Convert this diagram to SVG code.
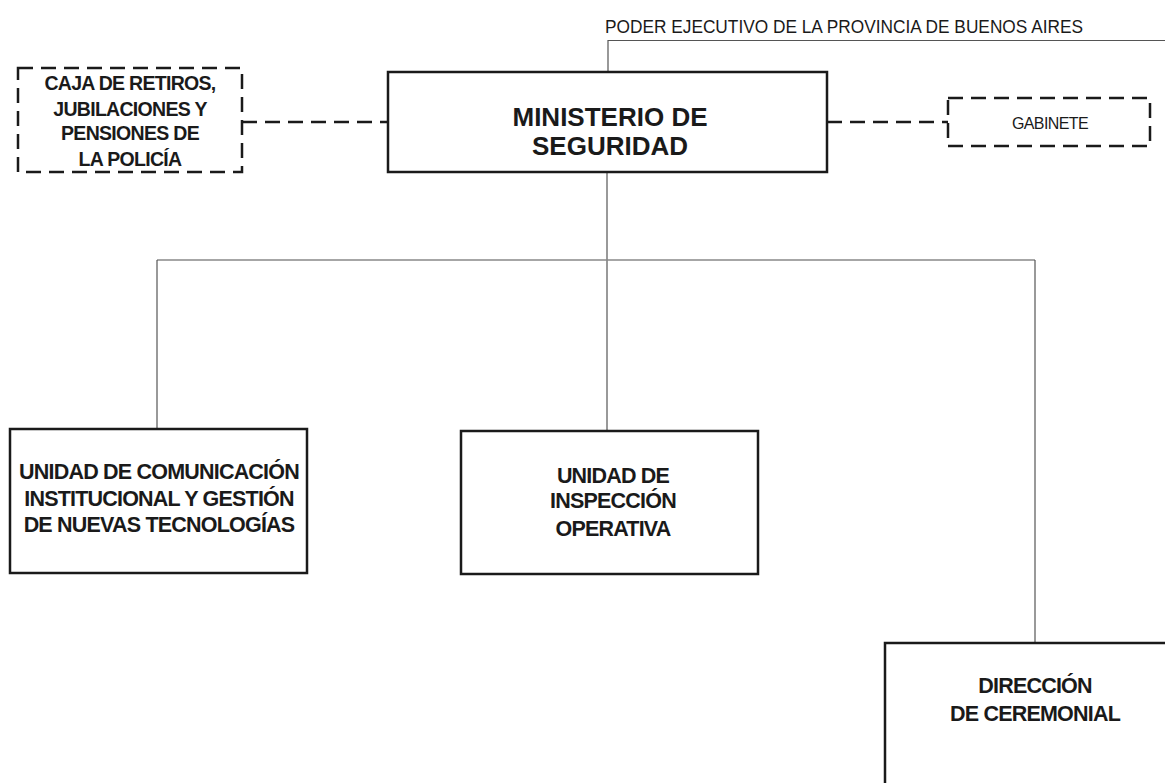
<svg xmlns="http://www.w3.org/2000/svg" width="1165" height="783" viewBox="0 0 1165 783">
<style>
.box{fill:#fff;stroke:#1a1a1a;stroke-width:2.5}
.dbox{fill:#fff;stroke:#1a1a1a;stroke-width:2.5;stroke-dasharray:15 8}
.dash{fill:none;stroke:#1a1a1a;stroke-width:2.5;stroke-dasharray:15 8}
.thin{fill:none;stroke:#555;stroke-width:1.2}
.bus{fill:none;stroke:#888;stroke-width:1.5}
.t{font-family:"Liberation Sans",Arial,sans-serif;font-weight:bold;fill:#1a1a1a;text-anchor:middle}
.r{font-family:"Liberation Sans",Arial,sans-serif;fill:#1a1a1a}
</style>
<rect width="1165" height="783" fill="#fff"/>
<g id="connectors">
<polyline class="thin" points="608,72 608,40.5 1165,40.5"/>
<line class="dash" x1="242" y1="122" x2="388" y2="122"/>
<line class="dash" x1="827" y1="122" x2="948" y2="122"/>
<line class="thin" x1="607" y1="172" x2="607" y2="431"/>
<line class="bus" x1="157" y1="260" x2="1035" y2="260"/>
<line class="thin" x1="157" y1="260" x2="157" y2="429"/>
<line class="thin" x1="1035" y1="260" x2="1035" y2="643"/>
</g>
<g id="poder">
<text class="r" x="605" y="33" font-size="17.5" textLength="478" lengthAdjust="spacingAndGlyphs">PODER EJECUTIVO DE LA PROVINCIA DE BUENOS AIRES</text>
</g>
<g id="caja">
<rect class="dbox" x="18" y="68" width="224" height="104"/>
<text class="t" font-size="19.5" letter-spacing="-0.7"><tspan x="130" y="90">CAJA DE RETIROS,</tspan><tspan x="130" y="116">JUBILACIONES Y</tspan><tspan x="130" y="140">PENSIONES DE</tspan><tspan x="130" y="166">LA POLICÍA</tspan></text>
</g>
<g id="ministerio">
<rect class="box" x="388" y="72" width="439" height="100"/>
<text class="t" font-size="26"><tspan x="610" y="126">MINISTERIO DE</tspan><tspan x="610" y="155">SEGURIDAD</tspan></text>
</g>
<g id="gabinete">
<rect class="dbox" x="948" y="98" width="202" height="48"/>
<text class="r" x="1050" y="129" font-size="16" text-anchor="middle" letter-spacing="-0.6">GABINETE</text>
</g>
<g id="comunicacion">
<rect class="box" x="10" y="429" width="297" height="144"/>
<text class="t" font-size="21.5" letter-spacing="-0.8"><tspan x="159" y="479">UNIDAD DE COMUNICACIÓN</tspan><tspan x="159" y="506">INSTITUCIONAL Y GESTIÓN</tspan><tspan x="159" y="532">DE NUEVAS TECNOLOGÍAS</tspan></text>
</g>
<g id="inspeccion">
<rect class="box" x="461" y="431" width="297" height="143"/>
<text class="t" font-size="21.5" letter-spacing="-0.8"><tspan x="613" y="483">UNIDAD DE</tspan><tspan x="613" y="508">INSPECCIÓN</tspan><tspan x="613" y="536">OPERATIVA</tspan></text>
</g>
<g id="ceremonial">
<rect class="box" x="885" y="643" width="300" height="160"/>
<text class="t" font-size="21.5" letter-spacing="-0.8"><tspan x="1035" y="693">DIRECCIÓN</tspan><tspan x="1035" y="721">DE CEREMONIAL</tspan></text>
</g>
</svg>
